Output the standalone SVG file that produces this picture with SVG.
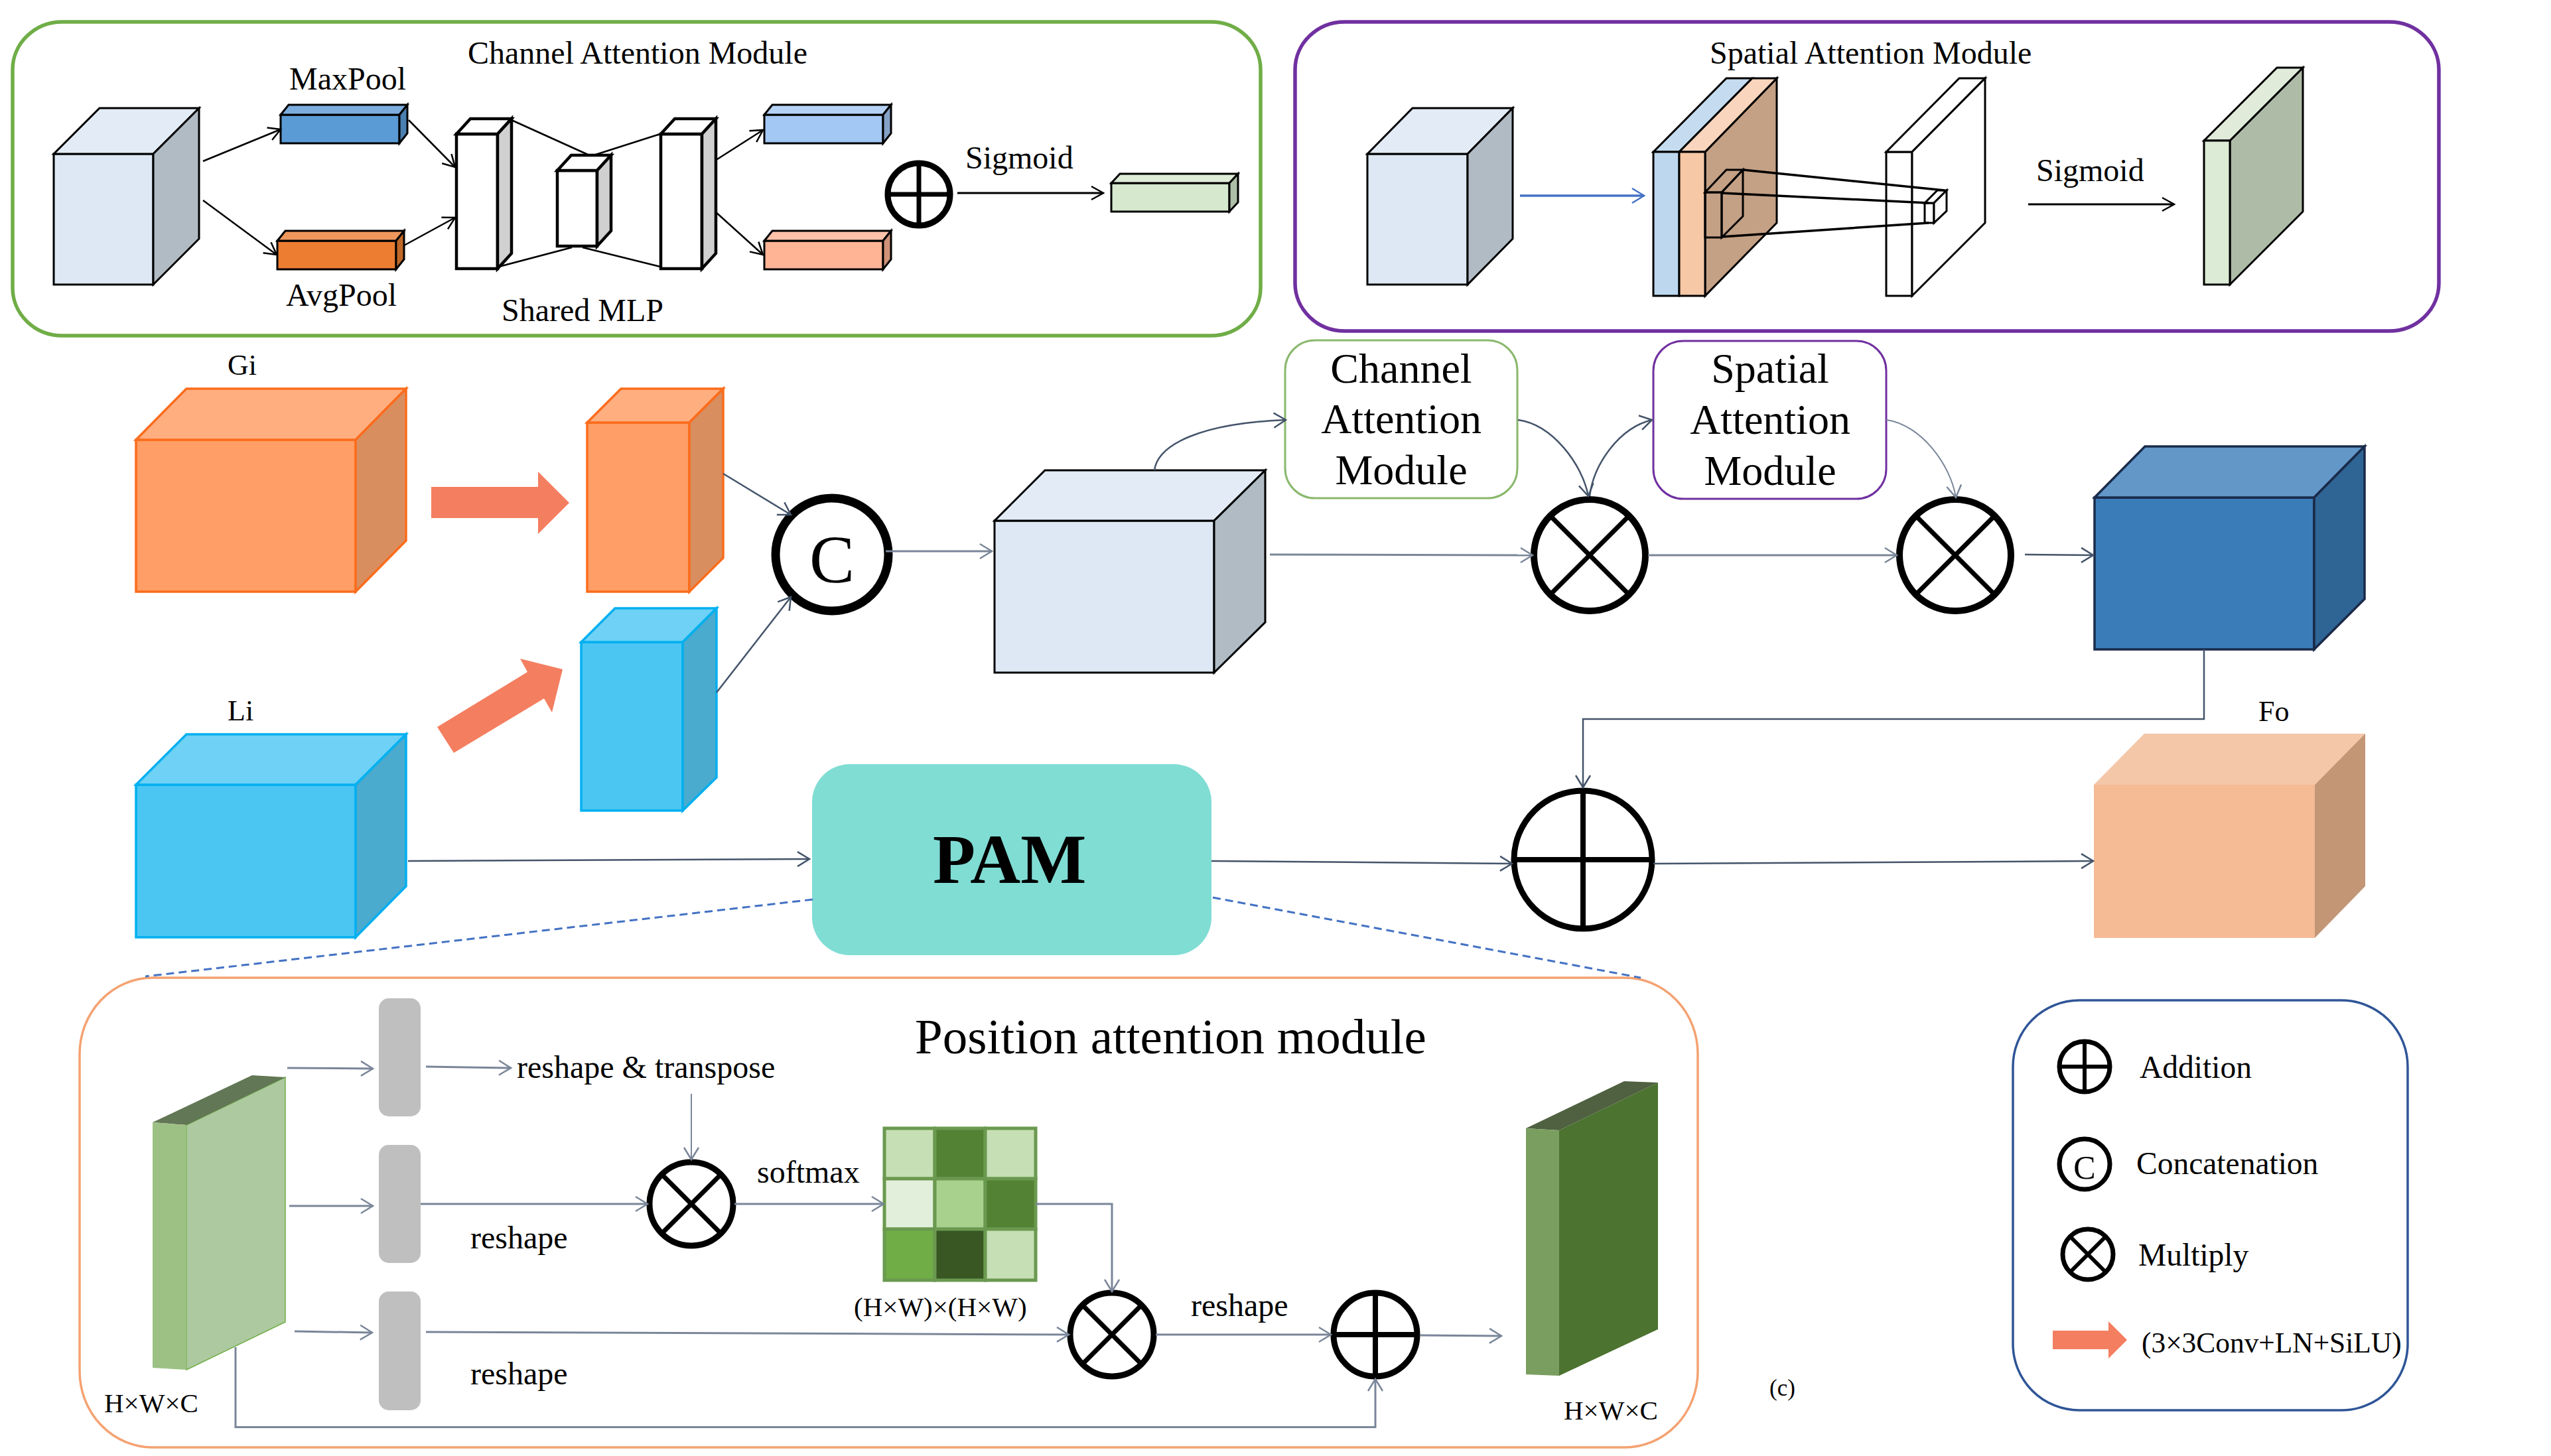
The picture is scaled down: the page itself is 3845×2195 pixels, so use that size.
<svg xmlns="http://www.w3.org/2000/svg" width="3845" height="2195" viewBox="0 0 3845 2195">
<style>
text{font-family:"Liberation Serif","Times New Roman",serif;fill:#000}
.t48{font-size:48px}.t41{font-size:41px}.t44{font-size:44px}.t64{font-size:64px}.tc{text-anchor:middle}
.frame{fill:none}
.e{stroke:#000;stroke-width:3;stroke-linejoin:miter}
.e4{stroke:#000;stroke-width:4.5;stroke-linejoin:miter}
.sym{fill:#fff;stroke:#000;stroke-linecap:butt}
.l{fill:none;stroke-linejoin:miter}
.dark{stroke:#44546a;stroke-width:2.5}
.slate{stroke:#7a8699;stroke-width:3}
.blk{stroke:#000;stroke-width:2.5}
.blu{stroke:#4472c4;stroke-width:3.5}
.dash{stroke:#4472c4;stroke-width:3;stroke-dasharray:12 7;fill:none}
.gr{fill:#bfbfbf}
.ar{fill:#f47e60}
</style>
<defs>
<marker id="mDark" markerUnits="userSpaceOnUse" markerWidth="44" markerHeight="44" viewBox="-30 -22 44 44" refX="0" refY="0" orient="auto" overflow="visible"><path d="M-18,-11 L0,0 L-18,11" fill="none" stroke="#44546a" stroke-width="2.5"/></marker>
<marker id="mSlate" markerUnits="userSpaceOnUse" markerWidth="44" markerHeight="44" viewBox="-30 -22 44 44" refX="0" refY="0" orient="auto" overflow="visible"><path d="M-18,-11 L0,0 L-18,11" fill="none" stroke="#7a8699" stroke-width="2.5"/></marker>
<marker id="mBlk" markerUnits="userSpaceOnUse" markerWidth="44" markerHeight="44" viewBox="-30 -22 44 44" refX="0" refY="0" orient="auto" overflow="visible"><path d="M-18,-10 L0,0 L-18,10" fill="none" stroke="#000" stroke-width="2.5"/></marker>
<marker id="mBlu" markerUnits="userSpaceOnUse" markerWidth="44" markerHeight="44" viewBox="-30 -22 44 44" refX="0" refY="0" orient="auto" overflow="visible"><path d="M-18,-11 L0,0 L-18,11" fill="none" stroke="#4472c4" stroke-width="2.5"/></marker>
</defs>
<rect width="3845" height="2195" fill="#fff"/>

<g id="frames">
<rect id="cam-frame" class="frame" x="19" y="33" width="1881" height="473" rx="75" ry="72" stroke="#70ad47" stroke-width="5.5"/>
<rect id="sam-frame" class="frame" x="1952" y="33" width="1724" height="466" rx="75" ry="72" stroke="#7030a0" stroke-width="5.5"/>
<rect id="pam-frame" class="frame" x="120" y="1474" width="2439" height="708" rx="110" ry="115" stroke="#f4a272" stroke-width="3.5"/>
<rect id="legend-frame" class="frame" x="3034" y="1508" width="595" height="618" rx="100" ry="100" stroke="#2f5597" stroke-width="3.5"/>
</g>

<g id="cam-input" class="e">
<rect x="81" y="232" width="150" height="197" fill="#dee8f4"/><polygon points="81,232 150,163 300,163 231,232" fill="#e3ecf6"/><polygon points="231,232 300,163 300,360 231,429" fill="#b0bbc4"/>
</g>
<g id="cam-maxpool" class="e">
<rect x="423" y="173" width="179" height="43" fill="#5b9bd5"/><polygon points="423,173 435,158 614,158 602,173" fill="#7cadde"/><polygon points="602,173 614,158 614,201 602,216" fill="#4a7fb0"/>
</g>
<g id="cam-avgpool" class="e">
<rect x="418" y="363" width="179" height="43" fill="#ed7d31"/><polygon points="418,363 430,348 609,348 597,363" fill="#f0975c"/><polygon points="597,363 609,348 609,391 597,406" fill="#c06828"/>
</g>
<g id="mlp-1" class="e4">
<rect x="688" y="202" width="62" height="203" fill="#fff"/><polygon points="688,202 709,179 771,179 750,202" fill="#fff"/><polygon points="750,202 771,179 771,382 750,405" fill="#d0d0d0"/>
</g>
<g id="mlp-2" class="e4">
<rect x="840" y="257" width="60" height="114" fill="#fff"/><polygon points="840,257 861,234 921,234 900,257" fill="#fff"/><polygon points="900,257 921,234 921,348 900,371" fill="#d0d0d0"/>
</g>
<g id="mlp-3" class="e4">
<rect x="996" y="202" width="62" height="203" fill="#fff"/><polygon points="996,202 1017,179 1079,179 1058,202" fill="#fff"/><polygon points="1058,202 1079,179 1079,382 1058,405" fill="#d0d0d0"/>
</g>
<g id="cam-blue" class="e">
<rect x="1152" y="173" width="179" height="43" fill="#a4c8f4"/><polygon points="1152,173 1164,158 1343,158 1331,173" fill="#b5d2f6"/><polygon points="1331,173 1343,158 1343,201 1331,216" fill="#85a2c6"/>
</g>
<g id="cam-salmon" class="e">
<rect x="1152" y="363" width="179" height="43" fill="#ffb495"/><polygon points="1152,363 1164,348 1343,348 1331,363" fill="#ffc3aa"/><polygon points="1331,363 1343,348 1343,391 1331,406" fill="#cf9279"/>
</g>
<g id="cam-add">
<circle class="sym" cx="1385" cy="293" r="47" stroke-width="9"/><path class="sym" d="M1338,293H1432M1385,246V340" stroke-width="7"/>
</g>
<g id="cam-output" class="e">
<rect x="1675" y="276" width="178" height="43" fill="#d6e8ce"/><polygon points="1675,276 1688,262 1866,262 1853,276" fill="#ddebd7"/><polygon points="1853,276 1866,262 1866,305 1853,319" fill="#aebfa7"/>
</g>
<g id="cam-labels">
<text class="t48" x="705" y="96">Channel Attention Module</text>
<text class="t48" x="436" y="135">MaxPool</text>
<text class="t48" x="431" y="461">AvgPool</text>
<text class="t48" x="756" y="484">Shared MLP</text>
<text class="t48" x="1455" y="254">Sigmoid</text>
</g>

<g id="sam-input" class="e">
<rect x="2061" y="232" width="151" height="197" fill="#dee8f4"/><polygon points="2061,232 2129,163 2280,163 2212,232" fill="#e3ecf6"/><polygon points="2212,232 2280,163 2280,360 2212,429" fill="#b0bbc4"/>
</g>
<g id="sam-layers" class="e">
<polygon points="2570,229 2678,118 2678,336 2570,446" fill="#c4a085"/>
<polygon points="2492,229 2602,118 2641,118 2531,229" fill="#c5dcf0"/>
<polygon points="2531,229 2641,118 2678,118 2570,229" fill="#f8d5bc"/>
<rect x="2492" y="229" width="39" height="217" fill="#bdd7ee"/>
<rect x="2531" y="229" width="39" height="217" fill="#f6c8a6"/>
<g fill="none">
<rect x="2570" y="290" width="25" height="68"/><polygon points="2570,290 2602,256 2627,256 2595,290"/><polygon points="2595,290 2627,256 2627,326 2595,358"/>
</g>
</g>
<g id="sam-plate" class="e">
<rect x="2843" y="229" width="39" height="217" fill="#fff"/><polygon points="2843,229 2953,118 2992,118 2882,229" fill="#fff"/><polygon points="2882,229 2992,118 2992,336 2882,446" fill="#fff"/>
</g>
<g id="sam-kernel" class="e" fill="#fff" stroke-width="2.5">
<rect x="2901" y="306" width="14" height="30"/><polygon points="2901,306 2920,287 2934,287 2915,306"/><polygon points="2915,306 2934,287 2934,318 2915,336"/>
</g>
<g id="sam-output" class="e">
<polygon points="3361,212 3471,102 3471,319 3361,429" fill="#aebba6"/><polygon points="3322,212 3432,102 3471,102 3361,212" fill="#e0ecd9"/><rect x="3322" y="212" width="39" height="217" fill="#dcebd5"/>
</g>
<g id="sam-labels">
<text class="t48" x="2577" y="96">Spatial Attention Module</text>
<text class="t48" x="3069" y="273">Sigmoid</text>
</g>

<g id="node-gi" stroke="#fb6c1c" stroke-width="3.5">
<rect x="205" y="663" width="331" height="229" fill="#ff9e66"/><polygon points="205,663 281,586 612,586 536,663" fill="#ffae80"/><polygon points="536,663 612,586 612,815 536,892" fill="#d98e60"/>
</g>
<text id="label-gi" class="t44" x="343" y="565">Gi</text>
<g id="node-gi-conv" stroke="#fb6c1c" stroke-width="3.5">
<rect x="885" y="637" width="154" height="255" fill="#ff9e66"/><polygon points="885,637 936,586 1090,586 1039,637" fill="#ffae80"/><polygon points="1039,637 1090,586 1090,841 1039,892" fill="#d98e60"/>
</g>
<g id="node-li" stroke="#00b0f0" stroke-width="3.5">
<rect x="205" y="1183" width="331" height="230" fill="#4bc6f3"/><polygon points="205,1183 281,1107 612,1107 536,1183" fill="#6fd1f5"/><polygon points="536,1183 612,1107 612,1336 536,1413" fill="#4aabcf"/>
</g>
<text id="label-li" class="t44" x="343" y="1086">Li</text>
<g id="node-li-conv" stroke="#00b0f0" stroke-width="3.5">
<rect x="876" y="968" width="153" height="254" fill="#4bc6f3"/><polygon points="876,968 927,917 1080,917 1029,968" fill="#6fd1f5"/><polygon points="1029,968 1080,917 1080,1172 1029,1222" fill="#4aabcf"/>
</g>
<polygon id="conv-arrow-1" class="ar" points="650,734 811,734 811,711 858,758 811,805 811,781 650,781"/>
<polygon id="conv-arrow-2" class="ar" points="659,1096 795,1013 784,993 848,1009 832,1074 820,1053 684,1135"/>
<g id="node-concat">
<circle class="sym" cx="1254" cy="836" r="85" stroke-width="13"/>
<text x="1254" y="878" font-size="102" class="tc">C</text>
</g>
<g id="node-merged" class="e">
<rect x="1499" y="785" width="331" height="229" fill="#dee8f4"/><polygon points="1499,785 1575,709 1907,709 1830,785" fill="#e3ecf6"/><polygon points="1830,785 1907,709 1907,938 1830,1014" fill="#b0bbc4"/>
</g>
<g id="node-channel">
<rect x="1937" y="513" width="350" height="238" rx="45" ry="45" fill="#fff" stroke="#8ab86d" stroke-width="3"/>
<text class="t64 tc" x="2112" y="577">Channel</text><text class="t64 tc" x="2112" y="653">Attention</text><text class="t64 tc" x="2112" y="730">Module</text>
</g>
<g id="node-spatial">
<rect x="2492" y="514" width="351" height="238" rx="45" ry="45" fill="#fff" stroke="#7030a0" stroke-width="3"/>
<text class="t64 tc" x="2668" y="577">Spatial</text><text class="t64 tc" x="2668" y="654">Attention</text><text class="t64 tc" x="2668" y="731">Module</text>
</g>
<g id="node-mul-1"><circle class="sym" cx="2396" cy="837" r="84" stroke-width="10"/><path class="sym" d="M2337,778L2455,896M2455,778L2337,896" stroke-width="7"/></g>
<g id="node-mul-2"><circle class="sym" cx="2947" cy="837" r="84" stroke-width="10"/><path class="sym" d="M2888,778L3006,896M3006,778L2888,896" stroke-width="7"/></g>
<g id="node-refined" stroke="#1a2b4a" stroke-width="3.5">
<rect x="3157" y="750" width="331" height="229" fill="#3a7cb8"/><polygon points="3157,750 3233,673 3564,673 3488,750" fill="#6297c8"/><polygon points="3488,750 3564,673 3564,903 3488,979" fill="#2f6595"/>
</g>
<g id="node-pam">
<rect x="1224" y="1152" width="602" height="288" rx="57" ry="57" fill="#80ddd4"/>
<text x="1406" y="1331" font-size="105" font-weight="bold">PAM</text>
</g>
<g id="node-add"><circle class="sym" cx="2386" cy="1296" r="104" stroke-width="9"/><path class="sym" d="M2282,1296H2490M2386,1192V1400" stroke-width="8"/></g>
<g id="node-fo">
<rect x="3156" y="1183" width="333" height="231" fill="#f5bb95"/><polygon points="3156,1183 3232,1106 3565,1106 3489,1183" fill="#f4c7a9"/><polygon points="3489,1183 3565,1106 3565,1336 3489,1414" fill="#c39676"/>
</g>
<text id="label-fo" class="t44" x="3404" y="1087">Fo</text>

<g id="pam-input">
<polygon points="281,1696 430,1624 430,1993 281,2065" fill="#adc9a0"/>
<polygon points="281,1696 430,1624 430,1993 281,2065" fill="none" stroke="#70ad47" stroke-width="1.5"/>
<polygon points="230,1692 380,1621 430,1624 281,1696" fill="#627755"/>
<polygon points="230,1692 281,1696 281,2065 230,2062" fill="#9dc184"/>
</g>
<g id="pam-conv-1"><rect class="gr" x="571" y="1505" width="63" height="178" rx="15"/></g>
<g id="pam-conv-2"><rect class="gr" x="571" y="1726" width="63" height="178" rx="15"/></g>
<g id="pam-conv-3"><rect class="gr" x="571" y="1947" width="63" height="179" rx="15"/></g>
<g id="pam-mul-1"><circle class="sym" cx="1042" cy="1815" r="63" stroke-width="9"/><path class="sym" d="M997,1770L1087,1860M1087,1770L997,1860" stroke-width="7"/></g>
<g id="pam-matrix" stroke="#6a994f" stroke-width="5">
<rect x="1333" y="1701" width="76" height="76" fill="#c6dfb4"/><rect x="1409" y="1701" width="76" height="76" fill="#548235"/><rect x="1485" y="1701" width="76" height="76" fill="#c6dfb4"/>
<rect x="1333" y="1777" width="76" height="76" fill="#e2efda"/><rect x="1409" y="1777" width="76" height="76" fill="#a9d18e"/><rect x="1485" y="1777" width="76" height="76" fill="#548235"/>
<rect x="1333" y="1853" width="76" height="77" fill="#70ad47"/><rect x="1409" y="1853" width="76" height="77" fill="#385723"/><rect x="1485" y="1853" width="76" height="77" fill="#c6dfb4"/>
</g>
<g id="pam-mul-2"><circle class="sym" cx="1676" cy="2012" r="63" stroke-width="9"/><path class="sym" d="M1631,1967L1721,2057M1721,1967L1631,2057" stroke-width="7"/></g>
<g id="pam-add"><circle class="sym" cx="2073" cy="2012" r="63" stroke-width="9"/><path class="sym" d="M2010,2012H2136M2073,1949V2075" stroke-width="8"/></g>
<g id="pam-output">
<polygon points="2350,1704 2499,1632 2499,2004 2350,2074" fill="#4c7330"/>
<polygon points="2300,1701 2448,1630 2499,1632 2350,1704" fill="#4f6140"/>
<polygon points="2300,1701 2350,1704 2350,2074 2300,2072" fill="#7a9e5f"/>
</g>
<g id="pam-labels">
<text x="1379" y="1588" font-size="75">Position attention module</text>
<text class="t48" x="779" y="1625">reshape &amp; transpose</text>
<text class="t48" x="1141" y="1783">softmax</text>
<text class="t48" x="709" y="1882">reshape</text>
<text class="t48" x="709" y="2087">reshape</text>
<text class="t48" x="1795" y="1984">reshape</text>
<text class="t41" x="157" y="2129">H×W×C</text>
<text class="t41" x="2357" y="2140">H×W×C</text>
<text class="t41" x="1287" y="1984">(H×W)×(H×W)</text>
</g>

<g id="legend">
<g id="legend-add"><circle class="sym" cx="3142" cy="1608" r="38" stroke-width="7"/><path class="sym" d="M3104,1608H3180M3142,1570V1646" stroke-width="6"/></g>
<text x="3225" y="1625" font-size="47.5">Addition</text>
<g id="legend-concat"><circle class="sym" cx="3142" cy="1755" r="38" stroke-width="7"/><text x="3142" y="1777" font-size="50" class="tc">C</text></g>
<text x="3220" y="1770" font-size="47.5">Concatenation</text>
<g id="legend-mul"><circle class="sym" cx="3147" cy="1891" r="38" stroke-width="7"/><path class="sym" d="M3120,1864L3174,1918M3174,1864L3120,1918" stroke-width="6"/></g>
<text x="3223" y="1908" font-size="47.5">Multiply</text>
<polygon id="legend-arrow" class="ar" points="3094,2006 3178,2006 3178,1992 3206,2020 3178,2048 3178,2034 3094,2034"/>
<text x="3228" y="2039" font-size="43.4">(3×3Conv+LN+SiLU)</text>
</g>
<text id="label-c" x="2667" y="2104" font-size="35">(c)</text>

<g id="connectors">
<g class="l blk">
<path d="M306,243L423,195" marker-end="url(#mBlk)"/>
<path d="M306,302L417,384" marker-end="url(#mBlk)"/>
<path d="M616,181L686,252" marker-end="url(#mBlk)"/>
<path d="M609,370L686,328" marker-end="url(#mBlk)"/>
<path d="M771,181L886,233M898,233L995,202M752,402L862,373M878,373L995,402"/>
<path d="M1078,242L1150,196" marker-end="url(#mBlk)"/>
<path d="M1078,319L1150,384" marker-end="url(#mBlk)"/>
<path d="M1443,291H1663" marker-end="url(#mBlk)" stroke-width="3"/>
<path d="M3057,308H3277" marker-end="url(#mBlk)" stroke-width="3"/>
<path d="M2627,256L2931,287M2595,291L2907,306M2595,357L2907,336" stroke-width="3.5"/>
</g>
<path class="l blu" d="M2291,295H2478" marker-end="url(#mBlu)"/>
<g class="l dark">
<path d="M1090,714L1192,776" marker-end="url(#mDark)"/>
<path d="M1080,1044L1192,900" marker-end="url(#mDark)"/>
<path d="M615,1298L1220,1295" marker-end="url(#mDark)"/>
<path d="M1740,709C1745,670 1810,638 1938,633" marker-end="url(#mDark)"/>
<path d="M2396,748C2402,700 2440,645 2490,633" marker-end="url(#mDark)"/>
<path d="M2288,633C2340,640 2385,700 2394,748" marker-end="url(#mDark)"/>
<path d="M3052,836L3155,837" marker-end="url(#mDark)"/>
<path d="M3322,979V1084H2386V1187" marker-end="url(#mDark)"/>
<path d="M1826,1298L2279,1302" marker-end="url(#mDark)"/>
<path d="M2492,1302L3155,1298" marker-end="url(#mDark)"/>
</g>
<g class="l slate">
<path d="M1335,831H1495" marker-end="url(#mSlate)"/>
<path d="M1914,836L2310,837" marker-end="url(#mSlate)"/>
<path d="M2484,837H2859" marker-end="url(#mSlate)"/>
<path d="M2843,633C2895,640 2940,700 2948,750" marker-end="url(#mSlate)" stroke-width="2"/>
<path d="M433,1610L562,1611" marker-end="url(#mSlate)"/>
<path d="M642,1608L770,1610" marker-end="url(#mSlate)"/>
<path d="M436,1818H562" marker-end="url(#mSlate)"/>
<path d="M634,1815H976" marker-end="url(#mSlate)"/>
<path d="M444,2007L561,2009" marker-end="url(#mSlate)"/>
<path d="M642,2008L1611,2012" marker-end="url(#mSlate)"/>
<path d="M1042,1649V1748" marker-end="url(#mSlate)" stroke-width="2"/>
<path d="M1107,1815H1332" marker-end="url(#mSlate)"/>
<path d="M1561,1815H1676V1947" marker-end="url(#mSlate)"/>
<path d="M1742,2012H2006" marker-end="url(#mSlate)"/>
<path d="M2140,2013L2263,2014" marker-end="url(#mSlate)"/>
<path d="M355,2031V2151.5H2073V2079" marker-end="url(#mSlate)"/>
</g>
<path class="dash" d="M1225,1356L219,1472"/>
<path class="dash" d="M1828,1353L2473,1474"/>
</g>
</svg>
